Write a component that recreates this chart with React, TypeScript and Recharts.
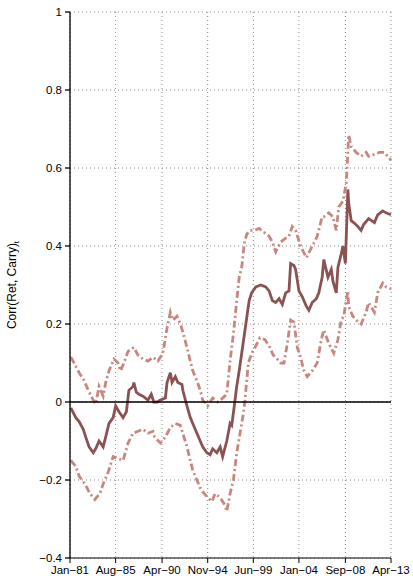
import { LineChart, Line, XAxis, YAxis, CartesianGrid, ReferenceLine } from "recharts";

// x positions are months since Jan-81
const tickMonths = [0, 55, 111, 166, 221, 276, 332, 387];
const tickLabels = ["Jan−81", "Aug−85", "Apr−90", "Nov−94", "Jun−99", "Jan−04", "Sep−08", "Apr−13"];
const yTicks = [-0.4, -0.2, 0, 0.2, 0.4, 0.6, 0.8, 1];

const corrMonths = [
  1, 7, 11, 16, 19, 23, 28, 31, 35, 40, 43, 47, 52, 55, 59, 64, 68, 71, 76, 77, 80, 83, 88, 94, 98, 101,
  105, 109, 115, 117, 121, 123, 127, 130, 135, 136, 141, 145, 148, 153, 157, 160, 165, 169, 172, 177,
  181, 184, 189, 193, 195, 199, 201, 204, 207, 212, 216, 219, 224, 230, 236, 240, 244, 248, 252, 256,
  260, 264, 266, 270, 272, 276, 280, 285, 288, 292, 297, 300, 304, 306, 311, 315, 317, 321, 323, 327,
  329, 332, 335, 336, 339, 342, 347, 351, 354, 360, 367, 371, 377, 381, 387,
];
const corrValues = [
  -0.015, -0.04, -0.05, -0.07, -0.09, -0.115, -0.13, -0.12, -0.1, -0.115, -0.09, -0.055, -0.04, -0.01,
  -0.025, -0.04, -0.025, 0.03, 0.04, 0.05, 0.025, 0.02, 0.015, 0.005, 0.02, 0.0, 0.0, 0.005, 0.01, 0.05,
  0.075, 0.05, 0.065, 0.05, 0.045, 0.03, -0.01, -0.04, -0.055, -0.08, -0.1, -0.115, -0.13, -0.135, -0.12,
  -0.13, -0.115, -0.14, -0.1, -0.055, -0.06, 0.005, 0.04, 0.08, 0.125, 0.2, 0.26, 0.28, 0.295, 0.3,
  0.295, 0.285, 0.26, 0.255, 0.265, 0.25, 0.28, 0.285, 0.355, 0.35, 0.34, 0.285, 0.27, 0.245, 0.235,
  0.255, 0.265, 0.28, 0.32, 0.365, 0.32, 0.34, 0.31, 0.28, 0.345, 0.38, 0.4, 0.355, 0.545, 0.51, 0.465,
  0.46, 0.45, 0.44, 0.455, 0.47, 0.46, 0.48, 0.49, 0.485, 0.48,
];

const upperMonths = [
  1, 5, 11, 17, 22, 28, 31, 35, 40, 43, 47, 53, 58, 61, 65, 70, 77, 82, 88, 94, 100, 106, 112, 117, 121,
  124, 129, 133, 136, 141, 145, 148, 153, 157, 160, 166, 172, 178, 184, 189, 193, 197, 201, 204, 207,
  210, 213, 217, 222, 228, 234, 240, 244, 248, 254, 260, 264, 268, 272, 278, 285, 291, 298, 304, 306,
  312, 317, 321, 324, 329, 333, 335, 336, 339, 345, 351, 357, 360, 367, 373, 379, 385, 387,
];
const upperValues = [
  0.115, 0.1, 0.075, 0.055, 0.03, 0.005, -0.005, 0.04, 0.015, 0.05, 0.08, 0.11, 0.1, 0.08, 0.1, 0.13,
  0.14, 0.12, 0.11, 0.105, 0.115, 0.105, 0.125, 0.19, 0.23, 0.21, 0.22, 0.2, 0.18, 0.14, 0.105, 0.08,
  0.055, 0.03, 0.005, -0.01, 0.01, 0.0, 0.01, 0.02, 0.105, 0.175, 0.26, 0.32, 0.345, 0.405, 0.43, 0.44,
  0.44, 0.445, 0.435, 0.425, 0.41, 0.385, 0.41, 0.42, 0.425, 0.45, 0.44, 0.4, 0.37, 0.395, 0.425, 0.475,
  0.475, 0.485, 0.475, 0.44, 0.5, 0.515, 0.56, 0.64, 0.685, 0.655, 0.64, 0.63, 0.64, 0.63, 0.635, 0.64,
  0.64, 0.625, 0.62,
];

const lowerMonths = [
  1, 7, 11, 18, 24, 30, 36, 40, 46, 52, 58, 64, 70, 76, 82, 88, 94, 100, 102, 109, 115, 121, 127, 133,
  136, 141, 145, 148, 153, 157, 160, 166, 171, 175, 181, 187, 189, 193, 197, 201, 205, 209, 211, 213,
  215, 219, 223, 229, 235, 241, 245, 248, 254, 258, 262, 266, 270, 274, 278, 282, 286, 292, 298, 303,
  306, 312, 318, 323, 327, 330, 335, 336, 341, 345, 351, 357, 360, 367, 371, 377, 381, 387,
];
const lowerValues = [
  -0.15, -0.165, -0.19, -0.21, -0.235, -0.25, -0.235, -0.21, -0.18, -0.14, -0.145, -0.15, -0.105, -0.08,
  -0.075, -0.07, -0.08, -0.075, -0.09, -0.105, -0.09, -0.065, -0.055, -0.06, -0.08, -0.115, -0.15,
  -0.175, -0.2, -0.22, -0.23, -0.245, -0.255, -0.235, -0.245, -0.265, -0.28, -0.235, -0.2, -0.13, -0.08,
  -0.03, 0.005, 0.055, 0.1, 0.125, 0.14, 0.165, 0.16, 0.14, 0.12, 0.115, 0.1, 0.1, 0.15, 0.21, 0.205,
  0.14, 0.115, 0.08, 0.065, 0.08, 0.1, 0.16, 0.185, 0.15, 0.125, 0.16, 0.21, 0.22, 0.285, 0.245, 0.22,
  0.21, 0.2, 0.23, 0.255, 0.23, 0.28, 0.305, 0.295, 0.29,
];

// minor tick marks along both axes
const minorMonths = Array.from({ length: 130 }, (_, i) => i * 3);
const minorY = Array.from({ length: 71 }, (_, i) => Math.round((-0.4 + i * 0.02) * 100) / 100);

const toRows = (months: number[], values: number[]) => months.map((m, i) => ({ m, v: values[i] }));
const corrData = toRows(corrMonths, corrValues);
const upperData = toRows(upperMonths, upperValues);
const lowerData = toRows(lowerMonths, lowerValues);

const FONT = "'Liberation Sans', Arial, sans-serif";
const SOLID = "#8a5253";
const BAND = "#c9867f";

const fmtY = (v: number) => {
  if (v === 0) return "0";
  const s = String(Math.abs(v));
  return v < 0 ? `−${s}` : s;
};

function YLabel() {
  return (
    <text
      x={0}
      y={0}
      transform="translate(16 285) rotate(-90)"
      textAnchor="middle"
      fontFamily={FONT}
      fontSize={12}
      fill="#000"
    >
      Corr(Ret, Carry)
      <tspan fontSize={8} dy={3}>t</tspan>
    </text>
  );
}

export default function App() {
  return (
    <div style={{ position: "absolute", left: 0, top: 0, background: "#fff" }}>
      <LineChart width={413} height={587} margin={{ top: 12, right: 22, bottom: 0, left: 0 }}>
        <CartesianGrid stroke="#888" strokeDasharray="1 3" strokeWidth={1} />
        <XAxis
          dataKey="m"
          type="number"
          domain={[0, 387]}
          ticks={tickMonths}
          tickFormatter={(v) => tickLabels[tickMonths.indexOf(v)] ?? ""}
          height={29}
          tickSize={5}
          tickMargin={3}
          stroke="#000"
          tick={{ fill: "#000", fontSize: 11.5, fontFamily: FONT }}
          interval={0}
        />
        <XAxis
          xAxisId="minor"
          dataKey="m"
          type="number"
          domain={[0, 387]}
          ticks={minorMonths}
          tick={false}
          tickSize={2}
          mirror
          height={0}
          axisLine={false}
          stroke="#000"
          interval={0}
        />
        <YAxis
          type="number"
          domain={[-0.4, 1]}
          ticks={yTicks}
          tickFormatter={fmtY}
          width={70}
          tickSize={5}
          tickMargin={3}
          stroke="#000"
          strokeWidth={1.3}
          tick={{ fill: "#000", fontSize: 11.5, fontFamily: FONT }}
          interval={0}
          label={{ content: () => <YLabel /> }}
        />
        <YAxis
          yAxisId="minor"
          type="number"
          domain={[-0.4, 1]}
          ticks={minorY}
          tick={false}
          tickSize={2}
          mirror
          width={0}
          axisLine={false}
          stroke="#000"
          interval={0}
        />
        <Line
          data={upperData}
          dataKey="v"
          stroke={BAND}
          strokeWidth={2.8}
          strokeDasharray="7 3 2 3"
          dot={false}
          isAnimationActive={false}
        />
        <Line
          data={lowerData}
          dataKey="v"
          stroke={BAND}
          strokeWidth={2.8}
          strokeDasharray="7 3 2 3"
          dot={false}
          isAnimationActive={false}
        />
        <Line
          data={corrData}
          dataKey="v"
          stroke={SOLID}
          strokeWidth={2.8}
          dot={false}
          isAnimationActive={false}
        />
        <ReferenceLine y={0} stroke="#000" strokeWidth={1.5} />
      </LineChart>
    </div>
  );
}
